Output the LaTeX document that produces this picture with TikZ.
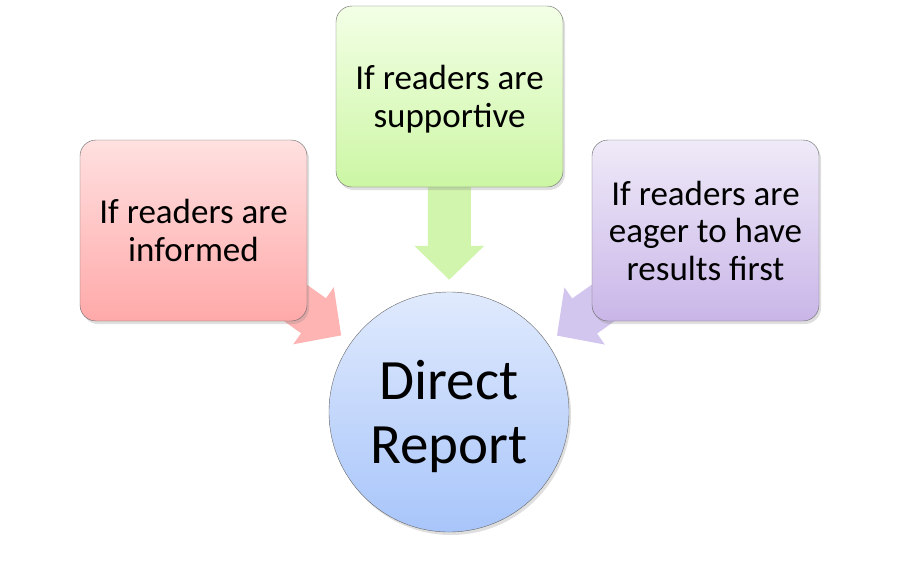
\documentclass[tikz,border=0pt]{standalone}
\usepackage{fontspec}
\setmainfont{Carlito}
\usetikzlibrary{arrows.meta, positioning, backgrounds, shadows}
\definecolor{infTop}{HTML}{FFE0E0}
\definecolor{infBot}{HTML}{FFA9A9}
\definecolor{infArr}{HTML}{FFB4B4}
\definecolor{supTop}{HTML}{F3FFE6}
\definecolor{supBot}{HTML}{CCF6A4}
\definecolor{supArr}{HTML}{D2F5AE}
\definecolor{eagTop}{HTML}{EFEAF8}
\definecolor{eagBot}{HTML}{C9B6E8}
\definecolor{eagArr}{HTML}{D3C6EE}
\definecolor{repTop}{HTML}{E0EAFD}
\definecolor{repBot}{HTML}{A8C5FA}

\begin{document}
\begin{tikzpicture}[
    x = 1pt, y = -1pt,
    box/.style  = {draw=black!60, rounded corners=16pt,
                   minimum width=227pt, minimum height=181pt, text depth=0pt,
                   align=center, font=\fontsize{35}{37.5}\selectfont,
                   drop shadow={opacity=0.25, shadow xshift=2pt, shadow yshift=-3pt}},
    hub/.style  = {draw=black!60, circle, minimum size=240pt, text depth=0pt,
                   align=center, font=\fontsize{57}{64}\selectfont,
                   top color=repTop, bottom color=repBot,
                   drop shadow={opacity=0.25, shadow xshift=2pt, shadow yshift=-3pt}},
    blk/.style  = {line width=43pt, -{Triangle[width=68pt, length=34pt]},
                   shorten >=12pt},
  ]
  \useasboundingbox (0,0) rectangle (900,560);
  \node[hub] (rep) at (449,412) {Direct\\Report};
  \node[box, top color=infTop, bottom color=infBot] (inf) at (193.5,230.5)
    {If readers are\\informed};
  \node[box, top color=supTop, bottom color=supBot] (sup) at (449.5,96.5)
    {If readers are\\supportive};
  \node[box, top color=eagTop, bottom color=eagBot] (eag) at (705.5,230.5)
    {If readers are\\eager to have\\results first};
  \begin{scope}[on background layer]
    \draw[blk, infArr] (inf.center) -- (rep);
    \draw[blk, supArr] (sup.center) -- (rep);
    \draw[blk, eagArr] (eag.center) -- (rep);
  \end{scope}
\end{tikzpicture}
\end{document}
